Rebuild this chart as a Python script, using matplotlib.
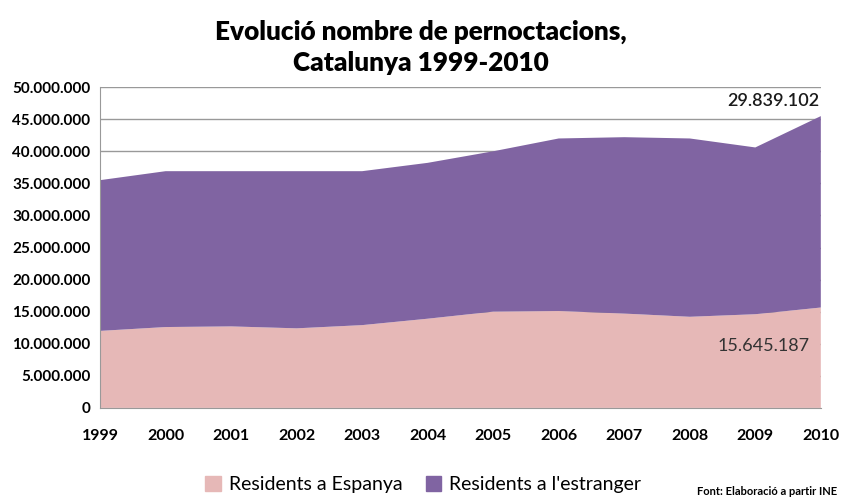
import matplotlib.pyplot as plt
from matplotlib.ticker import FuncFormatter
from matplotlib.patches import Patch

years = [1999, 2000, 2001, 2002, 2003, 2004, 2005, 2006, 2007, 2008, 2009, 2010]
espanya = [12.0e6, 12.6e6, 12.7e6, 12.4e6, 12.9e6, 13.9e6, 15.0e6, 15.1e6, 14.7e6, 14.2e6, 14.6e6, 15645187]
estranger = [23.5e6, 24.3e6, 24.2e6, 24.5e6, 24.0e6, 24.3e6, 25.0e6, 26.9e6, 27.5e6, 27.8e6, 26.0e6, 29839102]
series_names = ['Residents a Espanya', "Residents a l'estranger"]
colors = ['#E6B8B7', '#8064A2']

plt.rcParams['font.family'] = ['Lato', 'DejaVu Sans']

fig = plt.figure(figsize=(8.41, 4.98), dpi=100)
ax = fig.add_axes([0.119, 0.181, 0.857, 0.644])

ax.stackplot(years, espanya, estranger, colors=colors, zorder=2)

ax.set_xlim(years[0], years[-1])
ax.set_ylim(0, 50e6)
ax.set_yticks(range(0, 50000001, 5000000))
ax.yaxis.set_major_formatter(FuncFormatter(lambda v, p: f'{int(v):,}'.replace(',', '.')))
ax.set_xticks(years)
ax.grid(axis='y', color='#999999', linewidth=1, zorder=1)
ax.set_axisbelow(True)
for s in ['top', 'right']:
    ax.spines[s].set_visible(False)
ax.spines['left'].set_color('#999999')
ax.spines['bottom'].set_color('#999999')
ax.tick_params(axis='y', length=0, labelsize=11, pad=7)
ax.tick_params(axis='x', length=0, labelsize=11.5, pad=15)
for lbl in ax.get_xticklabels() + ax.get_yticklabels():
    lbl.set_fontweight('bold')

total_last = espanya[-1] + estranger[-1]
ax.annotate(f'{estranger[-1]:,}'.replace(',', '.'), (years[-1], total_last),
            xytext=(-1, 5), textcoords='offset points', ha='right', va='bottom',
            fontsize=13, color='#1a1a1a', fontweight='semibold')
ax.annotate(f'{espanya[-1]:,}'.replace(',', '.'), (years[-1], espanya[-1]),
            xytext=(-8, -22), textcoords='offset points', ha='right', va='top',
            fontsize=13, color='#333333')

fig.suptitle('Evolució nombre de pernoctacions,\nCatalunya 1999-2010',
             y=0.96, fontsize=18.8, fontweight='heavy', linespacing=1.35)

handles = [Patch(color=c) for c in colors]
fig.legend(handles, series_names, loc='lower center', bbox_to_anchor=(0.503, -0.025),
           ncol=2, frameon=False, fontsize=14, handlelength=0.8, handleheight=0.8,
           columnspacing=1.2, handletextpad=0.4)

fig.text(0.995, 0.002, 'Font: Elaboració a partir INE', fontsize=8, fontweight='bold',
         ha='right', va='bottom')

fig.savefig('out.png', dpi=100)
